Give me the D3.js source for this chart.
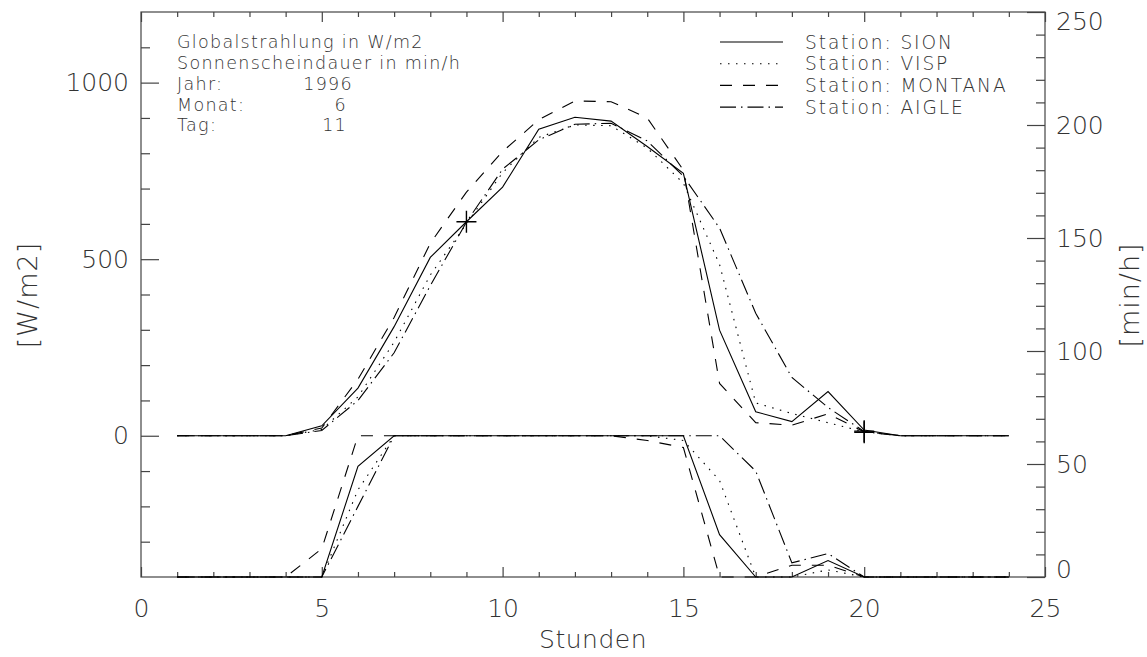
<!DOCTYPE html>
<html>
<head>
<meta charset="utf-8">
<script src="https://cdn.jsdelivr.net/npm/d3@7"></script>
<style>
  body { margin: 0; background: #fff; }
  text { font-family: "DejaVu Sans", sans-serif; font-weight: 200; fill: #333; }
</style>
</head>
<body>
<div id="chart"></div>
<script>
// hourly values, 11.6.1996
const hours = [1, 2, 3, 4, 5, 6, 7, 8, 9, 10, 11, 12, 13, 14, 15, 16, 17, 18, 19, 20, 21, 22, 23, 24];
const stations = ["SION", "VISP", "MONTANA", "AIGLE"];

// Globalstrahlung [W/m2]
const radSion    = [0, 0, 0, 0, 28, 135, 309, 505, 606, 704, 868, 902, 891, 819, 743, 299, 68, 40, 125, 16, 0, 0, 0, 0];
const radVisp    = [0, 0, 0, 0, 18, 110, 265, 455, 600, 745, 845, 880, 878, 815, 715, 485, 93, 63, 37, 11, 0, 0, 0, 0];
const radMontana = [0, 0, 0, 0, 22, 160, 335, 545, 690, 805, 895, 948, 946, 900, 752, 148, 37, 30, 62, 11, 0, 0, 0, 0];
const radAigle   = [0, 0, 0, 0, 15, 100, 235, 425, 605, 755, 838, 882, 885, 835, 735, 588, 347, 165, 80, 12, 0, 0, 0, 0];

// Sonnenscheindauer [min/h]
const sunSion    = [0, 0, 0, 0, 0, 47, 60, 60, 60, 60, 60, 60, 60, 60, 60, 18, 0, 0, 7, 0, 0, 0, 0, 0];
const sunVisp    = [0, 0, 0, 0, 0, 37, 60, 60, 60, 60, 60, 60, 60, 60, 58, 41, 0, 0, 3, 0, 0, 0, 0, 0];
const sunMontana = [0, 0, 0, 0, 12, 60, 60, 60, 60, 60, 60, 60, 60, 58, 55, 0, 0, 5, 5, 0, 0, 0, 0, 0];
const sunAigle   = [0, 0, 0, 0, 0, 30, 60, 60, 60, 60, 60, 60, 60, 60, 60, 60, 45, 6, 10, 0, 0, 0, 0, 0];

// marked points (+)
const markHours = [9, 20, 20];
const markValues = [606, 10, 13];

// axis ticks
const xMajor = [0, 5, 10, 15, 20, 25];
const xMinor = [1, 2, 3, 4, 6, 7, 8, 9, 11, 12, 13, 14, 16, 17, 18, 19, 21, 22, 23, 24];
const yLeftMajor = [0, 500, 1000];
const yLeftMinor = [-300, -200, -100, 100, 200, 300, 400, 600, 700, 800, 900, 1100];
const yRightMajor = [0, 50, 100, 150, 200, 250];
const yRightMinor = [10, 20, 30, 40, 60, 70, 80, 90, 110, 120, 130, 140, 160, 170, 180, 190, 210, 220, 230, 240];

const infoLabels = ["Jahr:", "Monat:", "Tag:"];
const infoValues = ["1996", "6", "11"];

class StrahlungVis {

    constructor(_config) {
        this.config = {
            parentElement: _config.parentElement,
            width: 1147,
            height: 657,
            left: 141,
            right: 1045,
            top: 12,
            bottom: 577,
        }
        this.initVis();
    }

    initVis() {
        let vis = this;
        const c = vis.config;

        vis.svg = d3.select(c.parentElement).append("svg")
            .attr("width", c.width)
            .attr("height", c.height);

        vis.x = d3.scaleLinear().domain([0, 25]).range([c.left, c.right]);
        vis.yLeft = d3.scaleLinear().domain([-400, 1200]).range([c.bottom, c.top]);
        vis.yRight = d3.scaleLinear().domain([0, 250]).range([c.bottom, c.top]);
        // sunshine is drawn in the lower band, 0..60 min/h between -400 and 0 W/m2
        vis.ySun = d3.scaleLinear().domain([0, 60]).range([vis.yLeft(-400), vis.yLeft(0)]);

        vis.drawAxes();
        vis.drawLines();
        vis.drawText();
    }

    drawAxes() {
        let vis = this;
        const c = vis.config;

        const addAxis = (axis, tx, ty) => {
            const g = vis.svg.append("g")
                .attr("transform", `translate(${tx},${ty})`)
                .call(axis);
            g.select(".domain").remove();
            g.selectAll("line").attr("stroke", "#444").attr("stroke-width", 1.2);
            g.selectAll("text").attr("font-size", 25).attr("fill", "#333")
                .style("font-family", "DejaVu Sans").style("font-weight", 200);
            return g;
        }

        // bottom
        addAxis(d3.axisBottom(vis.x).tickValues(xMajor).tickSize(-10).tickPadding(22).tickFormat(d3.format("d")), 0, c.bottom);
        addAxis(d3.axisBottom(vis.x).tickValues(xMinor).tickSize(-5).tickFormat(""), 0, c.bottom);
        // top
        addAxis(d3.axisTop(vis.x).tickValues(xMajor).tickSize(-10).tickFormat(""), 0, c.top);
        addAxis(d3.axisTop(vis.x).tickValues(xMinor).tickSize(-5).tickFormat(""), 0, c.top);
        // left
        addAxis(d3.axisLeft(vis.yLeft).tickValues(yLeftMajor).tickSize(-18).tickPadding(12).tickFormat(d3.format("d")), c.left, 0);
        addAxis(d3.axisLeft(vis.yLeft).tickValues(yLeftMinor).tickSize(-9).tickFormat(""), c.left, 0);
        // right, end labels kept inside the frame height
        const right = addAxis(d3.axisRight(vis.yRight).tickValues(yRightMajor).tickSize(-18).tickPadding(11).tickFormat(d3.format("d")), c.right, 0);
        right.selectAll("text").attr("dy", d => d === 250 ? "0.7em" : (d === 0 ? "0.0em" : "0.32em"));
        addAxis(d3.axisRight(vis.yRight).tickValues(yRightMinor).tickSize(-9).tickFormat(""), c.right, 0);

        vis.svg.append("rect")
            .attr("x", c.left).attr("y", c.top)
            .attr("width", c.right - c.left).attr("height", c.bottom - c.top)
            .attr("fill", "none").attr("stroke", "#444").attr("stroke-width", 1.2);
    }

    drawLines() {
        let vis = this;

        const dashes = [null, "1.5,6.5", "12,11", "16,5,1.5,5"];
        const radSeries = [radSion, radVisp, radMontana, radAigle];
        const sunSeries = [sunSion, sunVisp, sunMontana, sunAigle];

        const radLine = d3.line().x((d, i) => vis.x(hours[i])).y(d => vis.yLeft(d));
        const sunLine = d3.line().x((d, i) => vis.x(hours[i])).y(d => vis.ySun(d));

        const lines = vis.svg.append("g").attr("fill", "none").attr("stroke", "#000").attr("stroke-width", 1.1);

        radSeries.forEach((s, i) => {
            lines.append("path").attr("d", radLine(s)).attr("stroke-dasharray", dashes[i]);
        });
        sunSeries.forEach((s, i) => {
            lines.append("path").attr("d", sunLine(s)).attr("stroke-dasharray", dashes[i]);
        });

        // + markers
        markHours.forEach((h, i) => {
            const px = vis.x(h), py = vis.yLeft(markValues[i]);
            lines.append("path").attr("d", `M${px - 10},${py}H${px + 10}M${px},${py - 11}V${py + 11}`)
                .attr("stroke-width", 1.4);
        });

        // legend
        const legend = vis.svg.append("g");
        stations.forEach((s, i) => {
            const ly = 42 + i * 21.7;
            legend.append("line")
                .attr("x1", 720).attr("x2", 783).attr("y1", ly).attr("y2", ly)
                .attr("stroke", "#000").attr("stroke-width", 1.1)
                .attr("stroke-dasharray", dashes[i]);
            legend.append("text")
                .attr("x", 805).attr("y", ly + 6.5)
                .attr("font-size", 18.6)
                .attr("letter-spacing", 1.9)
                .text("Station: " + s);
        });
    }

    drawText() {
        let vis = this;
        const c = vis.config;

        const info = vis.svg.append("g").attr("font-size", 17.5).attr("letter-spacing", 1.3);
        info.append("text").attr("x", 177).attr("y", 48).text("Globalstrahlung in W/m2");
        info.append("text").attr("x", 177).attr("y", 69).text("Sonnenscheindauer in min/h");
        const valueEnds = [353, 347, 347];
        infoLabels.forEach((t, i) => {
            const ty = 90 + i * 20.7;
            info.append("text").attr("x", 177).attr("y", ty).text(t);
            info.append("text").attr("x", valueEnds[i]).attr("y", ty)
                .attr("text-anchor", "end").text(infoValues[i]);
        });

        vis.svg.append("text")
            .attr("x", (c.left + c.right) / 2).attr("y", 648)
            .attr("text-anchor", "middle").attr("font-size", 25)
            .attr("letter-spacing", 0.5)
            .text("Stunden");

        vis.svg.append("text")
            .attr("transform", "translate(37,295) rotate(-90)")
            .attr("text-anchor", "middle").attr("font-size", 27)
            .attr("letter-spacing", 1)
            .text("[W/m2]");

        vis.svg.append("text")
            .attr("transform", "translate(1139,295) rotate(-90)")
            .attr("text-anchor", "middle").attr("font-size", 27)
            .attr("letter-spacing", 1)
            .text("[min/h]");
    }
}

new StrahlungVis({ parentElement: "#chart" });
</script>
</body>
</html>
